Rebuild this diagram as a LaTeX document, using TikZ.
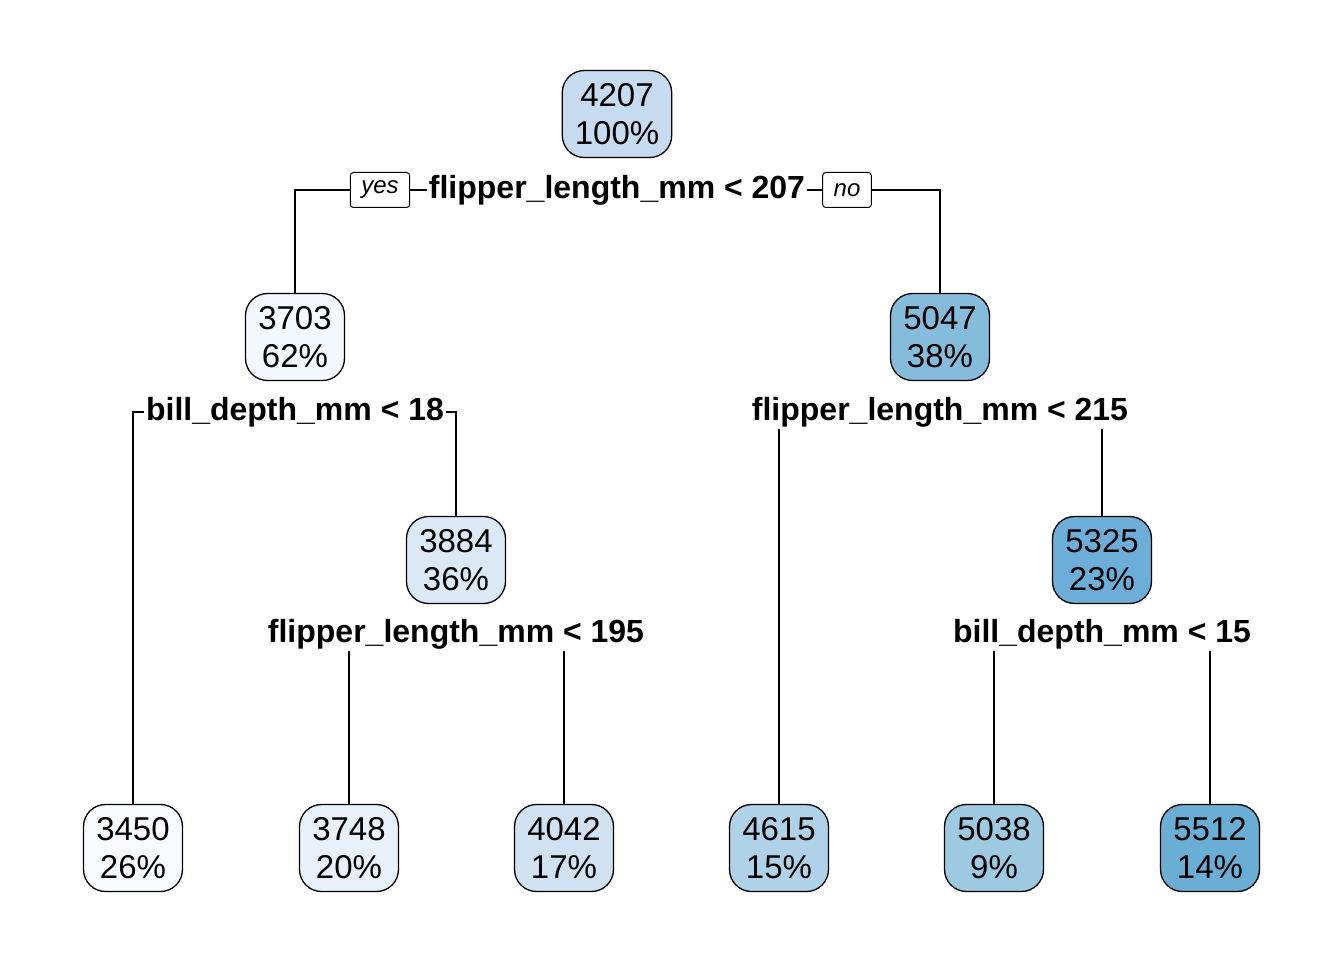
\documentclass[tikz,border=0pt]{standalone}
\usepackage{fontspec}
\setmainfont{Liberation Sans}
\definecolor{fillA}{HTML}{C6DBEF}
\definecolor{fillB}{HTML}{F3F8FE}
\definecolor{fillC}{HTML}{85BCDC}
\definecolor{fillD}{HTML}{DBE9F6}
\definecolor{fillE}{HTML}{6DAED8}
\definecolor{fillF}{HTML}{F7FBFF}
\definecolor{fillG}{HTML}{E8F1FA}
\definecolor{fillH}{HTML}{D0E1F2}
\definecolor{fillI}{HTML}{B0D2E8}
\definecolor{fillJ}{HTML}{9ECAE1}
\definecolor{fillK}{HTML}{6AAED6}
\tikzset{
  tnode/.style={draw, line width=1.3pt, rounded corners=22pt, align=center,
    font=\fontsize{33}{38}\selectfont, minimum width=99pt, minimum height=87pt,
    inner xsep=12.5pt},
  split/.style={font=\bfseries\fontsize{32}{38}\selectfont, inner sep=2pt},
  yesno/.style={draw, line width=1pt, rounded corners=3pt, font=\itshape\fontsize{24}{28}\selectfont,
    minimum height=35pt, inner xsep=11pt, inner ysep=0pt},
  edge/.style={line width=1.3pt}
}
\begin{document}
\begin{tikzpicture}[x=1pt, y=-1pt]
  \useasboundingbox (0,0) rectangle (1344,960);
  % inner nodes
  \node[tnode, fill=fillA] (n1) at (617,114) {4207\\100\%};
  \node[tnode, fill=fillB] (n2) at (295,337) {3703\\62\%};
  \node[tnode, fill=fillC] (n3) at (940,337) {5047\\38\%};
  \node[tnode, fill=fillD] (n4) at (456,560) {3884\\36\%};
  \node[tnode, fill=fillE] (n5) at (1102,560) {5325\\23\%};
  % leaves
  \node[tnode, fill=fillF] (l1) at (133,848) {3450\\26\%};
  \node[tnode, fill=fillG] (l2) at (349,848) {3748\\20\%};
  \node[tnode, fill=fillH] (l3) at (564,848) {4042\\17\%};
  \node[tnode, fill=fillI] (l4) at (779,848) {4615\\15\%};
  \node[tnode, fill=fillJ] (l5) at (994,848) {5038\\9\%};
  \node[tnode, fill=fillK] (l6) at (1210,848) {5512\\14\%};
  % split labels
  \node[split] (s1) at (617,190) {flipper\_length\_mm < 207};
  \node[split] (s2) at (295,412) {bill\_depth\_mm < 18};
  \node[split] (s3) at (940,412) {flipper\_length\_mm < 215};
  \node[split] (s4) at (456,634) {flipper\_length\_mm < 195};
  \node[split] (s5) at (1102,634) {bill\_depth\_mm < 15};
  \node[yesno] (yes) at (380,190) {yes};
  \node[yesno] (no) at (847,190) {no};
  % branches
  \draw[edge] (s1.west) -- (yes.east);
  \draw[edge] (yes.west) -| (n2.north);
  \draw[edge] (s1.east) -- (no.west);
  \draw[edge] (no.east) -| (n3.north);
  \draw[edge] (s2.west) -| (l1.north);
  \draw[edge] (s2.east) -| (n4.north);
  \draw[edge] (l4.north |- s3.south) -- (l4.north);
  \draw[edge] (n5.north |- s3.south) -- (n5.north);
  \draw[edge] (l2.north |- s4.south) -- (l2.north);
  \draw[edge] (l3.north |- s4.south) -- (l3.north);
  \draw[edge] (l5.north |- s5.south) -- (l5.north);
  \draw[edge] (l6.north |- s5.south) -- (l6.north);
\end{tikzpicture}
\end{document}
